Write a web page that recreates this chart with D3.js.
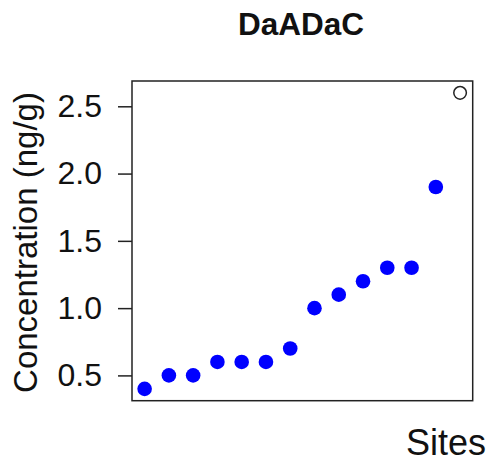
<!DOCTYPE html>
<html><head><meta charset="utf-8">
<script src="https://cdn.jsdelivr.net/npm/d3@7"></script>
<style>body{margin:0;background:#fff}svg{display:block}</style>
</head><body>
<svg id="c" width="491" height="459"></svg>
<script>
const title = "DaADaC";
const xLabel = "Sites";
const yLabel = "Concentration (ng/g)";
const sites = [1,2,3,4,5,6,7,8,9,10,11,12,13,14];
const values = [0.4,0.5,0.5,0.6,0.6,0.6,0.7,1.0,1.1,1.2,1.3,1.3,1.9,2.6];
const filled = [true,true,true,true,true,true,true,true,true,true,true,true,true,false];
const yTicks = [0.5,1.0,1.5,2.0,2.5];

const svg = d3.select("#c");
const L = 132, R = 472.7, T = 81, B = 400.7;
const x = d3.scaleLinear().domain([0.48, 14.52]).range([L, R]);
const y = d3.scaleLinear().domain([0.312, 2.688]).range([B, T]);
const font = "'Liberation Sans', Arial, sans-serif";

svg.append("rect").attr("x", L).attr("y", T).attr("width", R - L).attr("height", B - T)
  .attr("fill", "none").attr("stroke", "#222").attr("stroke-width", 1.5);

const ax = svg.append("g").attr("transform", `translate(${L},0)`)
  .call(d3.axisLeft(y).tickValues(yTicks).tickFormat(d3.format(".1f")).tickSize(14).tickPadding(16));
ax.select(".domain").remove();
ax.selectAll(".tick line").attr("stroke", "#222").attr("stroke-width", 1.5);
ax.selectAll(".tick text").attr("font-family", font).attr("font-size", 32).attr("fill", "#111");

svg.append("g").selectAll("circle").data(values.map((v,i)=>({s:sites[i],v,f:filled[i]})))
  .join("circle")
  .attr("cx", d => x(d.s)).attr("cy", d => y(d.v))
  .attr("r", d => d.f ? 7.3 : 6.3)
  .attr("fill", d => d.f ? "#0000ff" : "none")
  .attr("stroke", d => d.f ? "none" : "#222")
  .attr("stroke-width", 1.5);

svg.append("text").attr("x", 301).attr("y", 35).attr("text-anchor", "middle")
  .attr("font-family", font).attr("font-weight", "bold").attr("font-size", 31.5).attr("fill", "#111").text(title);
svg.append("text").attr("x", 486).attr("y", 455).attr("text-anchor", "end")
  .attr("font-family", font).attr("font-size", 36).attr("fill", "#111").text(xLabel);
svg.append("text").attr("transform", "translate(37,242.5) rotate(-90)").attr("text-anchor", "middle")
  .attr("font-family", font).attr("font-size", 33).attr("fill", "#111").text(yLabel);
</script>
</body></html>
